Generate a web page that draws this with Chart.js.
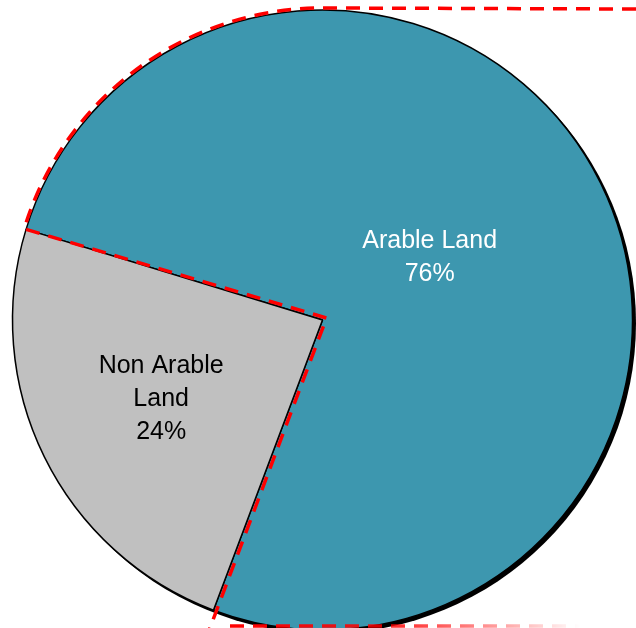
<!DOCTYPE html>
<html lang="en">
<head>
<meta charset="UTF-8">
<title>Arable Land</title>
<style>
  html, body { margin: 0; padding: 0; background: #fff; }
  #wrap { width: 636px; height: 628px; }
</style>
</head>
<body>
<div id="wrap"><canvas id="myChart"></canvas></div>
<script src="https://cdn.jsdelivr.net/npm/chart.js"></script>
<script>
const categories = ['Arable Land', 'Non Arable Land'];
const labelLines = [['Arable Land', '76%'], ['Non Arable', 'Land', '24%']];
const shares = [76, 24];
const colors = ['#3D97AF', '#C0C0C0'];
const textColors = ['#ffffff', '#000000'];

// where the labels sit: fraction of radius and a small angle nudge (deg)
const labelPlace = [[0.40, -4], [0.58, 0]];

const rad = d => d * Math.PI / 180;

// black drop shadow behind the pie (offset down-right)
const shadowPlugin = {
  id: 'shadow',
  beforeDatasetsDraw(chart) {
    const arc = chart.getDatasetMeta(0).data[0];
    if (!arc) return;
    const { x, y, outerRadius } = arc.getProps(['x', 'y', 'outerRadius'], true);
    const ctx = chart.ctx;
    ctx.save();
    ctx.fillStyle = '#000';
    ctx.beginPath();
    ctx.arc(x + 3, y + 3, outerRadius + 0.5, 0, Math.PI * 2);
    ctx.fill();
    ctx.restore();
  }
};

// labels + red dashed outline of the big slice
const overlayPlugin = {
  id: 'overlay',
  afterDatasetsDraw(chart) {
    const ctx = chart.ctx;
    const meta = chart.getDatasetMeta(0);
    meta.data.forEach((arc, i) => {
      const p = arc.getProps(['x', 'y', 'startAngle', 'endAngle', 'outerRadius'], true);
      const mid = (p.startAngle + p.endAngle) / 2 + rad(labelPlace[i][1]);
      const r = p.outerRadius * labelPlace[i][0];
      const lx = p.x + Math.cos(mid) * r;
      const ly = p.y + Math.sin(mid) * r;
      const lines = labelLines[i];
      const lh = 33;
      ctx.save();
      ctx.fillStyle = textColors[i];
      ctx.font = '25px "Liberation Sans", Arial, sans-serif';
      ctx.textAlign = 'center';
      ctx.textBaseline = 'middle';
      lines.forEach((t, k) => {
        ctx.fillText(t, lx, ly + (k - (lines.length - 1) / 2) * lh);
      });
      ctx.restore();
    });

    const big = meta.data[0].getProps(['x', 'y', 'startAngle', 'endAngle', 'outerRadius'], true);
    const R = big.outerRadius + 2;
    const W = chart.width, H = chart.height;
    const sx = 4, sy = -2;
    ctx.save();
    ctx.strokeStyle = '#FF0000';
    ctx.lineWidth = 3.5;
    ctx.setLineDash([14, 9]);
    ctx.beginPath();
    ctx.moveTo(W, big.y - R + 1);
    ctx.lineTo(big.x, big.y - R);
    ctx.arc(big.x, big.y, R, rad(-90), big.startAngle, true);
    ctx.lineTo(big.x + sx, big.y + sy);
    const ea = big.endAngle;
    ctx.lineTo(big.x + sx + Math.cos(ea) * (R + 20), big.y + sy + Math.sin(ea) * (R + 20));
    ctx.stroke();
    // bottom connector, fading out to the right
    const by = H - 2;
    const g = ctx.createLinearGradient(230, 0, 580, 0);
    g.addColorStop(0, 'rgba(255,0,0,1)');
    g.addColorStop(0.5, 'rgba(255,0,0,0.8)');
    g.addColorStop(1, 'rgba(255,0,0,0)');
    ctx.strokeStyle = g;
    ctx.beginPath();
    ctx.moveTo(230, by);
    ctx.lineTo(580, by);
    ctx.stroke();
    ctx.restore();
  }
};

new Chart(document.getElementById('myChart'), {
  type: 'pie',
  data: {
    labels: categories,
    datasets: [{
      data: shares,
      backgroundColor: colors,
      borderColor: '#000',
      borderWidth: 1.5
    }]
  },
  options: {
    responsive: true,
    maintainAspectRatio: false,
    animation: false,
    rotation: -73,
    radius: 310,
    layout: { padding: { left: 11, right: 2, top: 12, bottom: 0 } },
    plugins: {
      legend: { display: false },
      tooltip: { enabled: false }
    }
  },
  plugins: [shadowPlugin, overlayPlugin]
});
</script>
</body>
</html>
